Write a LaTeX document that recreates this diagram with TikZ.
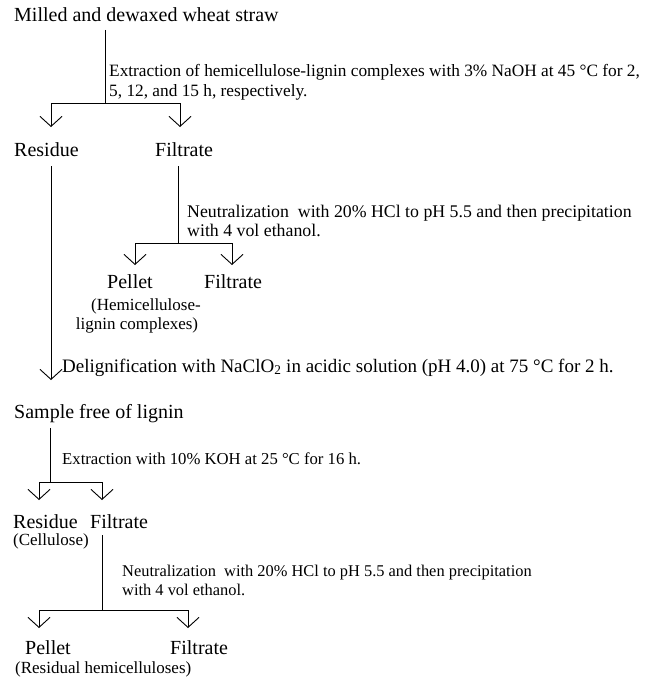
\documentclass[tikz,border=0pt]{standalone}
\usepackage{fontspec}
\setmainfont{Liberation Serif}
\usetikzlibrary{arrows.meta}
\begin{document}
\begin{tikzpicture}[x=1pt,y=-1pt,
  lbl/.style={anchor=base west,inner sep=0pt,font=\fontsize{20}{24}\selectfont},
  note/.style={anchor=base west,inner sep=0pt,font=\fontsize{17.3}{19}\selectfont},
  paren/.style={anchor=base west,inner sep=0pt,font=\fontsize{17}{19}\selectfont},
  ln/.style={line width=0.9pt},
  arr/.style={ln,-{Straight Barb[length=10pt,width=22pt,line width=0.9pt]}}]
\useasboundingbox (0,0) rectangle (647,677);
% ---- level 1
\node[lbl] (milled) at (14,22) {Milled and dewaxed wheat straw};
\coordinate (t1) at (105,30);
\coordinate (j1) at (105,103);
\coordinate (a1) at (51,127);
\coordinate (a2) at (180,127);
\node[note] (n1a) at (109,77) {Extraction of hemicellulose-lignin complexes with 3\% NaOH at 45 °C for 2,};
\node[note] (n1b) at (109,96) {5, 12, and 15 h, respectively.};
\draw[ln] (t1) -- (j1);
\draw[arr] (j1) -| (a1);
\draw[arr] (j1) -| (a2);
\node[lbl] (res1) at (14,156) {Residue};
\node[lbl] (fil1) at (155,156) {Filtrate};
% ---- level 2
\coordinate (t2) at (51,166);
\coordinate (a3) at (51,380);
\draw[arr] (t2) -- (a3);
\coordinate (t3) at (178,166);
\coordinate (j2) at (178,243);
\coordinate (a4) at (135,265);
\coordinate (a5) at (232,265);
\draw[ln] (t3) -- (j2);
\draw[arr] (j2) -| (a4);
\draw[arr] (j2) -| (a5);
\node[note,font=\fontsize{17.8}{19}\selectfont] (n2a) at (187,217) {Neutralization\ \ with 20\% HCl to pH 5.5 and then precipitation};
\node[note,font=\fontsize{17.8}{19}\selectfont] (n2b) at (187,236) {with 4 vol ethanol.};
\node[lbl] (pel1) at (107,288) {Pellet};
\node[lbl] (fil2) at (204,288) {Filtrate};
\node[paren,anchor=base] (hc1) at (146,310) {(Hemicellulose-};
\node[paren,anchor=base] (hc2) at (137,329) {lignin complexes)};
\node[note,font=\fontsize{19}{21}\selectfont] (n3) at (62,372) {Delignification with NaClO\textsubscript{2} in acidic solution (pH 4.0) at 75 °C for 2 h.};
% ---- level 3
\node[lbl] (sample) at (14,418) {Sample free of lignin};
\coordinate (t4) at (50,428);
\coordinate (j3) at (50,482);
\coordinate (a6) at (39,500);
\coordinate (a7) at (102,500);
\draw[ln] (t4) -- (j3);
\draw[arr] (j3) -| (a6);
\draw[arr] (j3) -| (a7);
\node[note,font=\fontsize{16.7}{19}\selectfont] (n4) at (62,464) {Extraction with 10\% KOH at 25 °C for 16 h.};
\node[lbl] (res2) at (13,528) {Residue};
\node[lbl] (fil3) at (90,528) {Filtrate};
\node[paren] (cell) at (13,545) {(Cellulose)};
% ---- level 4
\coordinate (t5) at (102,535);
\coordinate (j4) at (102,610);
\coordinate (a8) at (39,628);
\coordinate (a9) at (188,628);
\draw[ln] (t5) -- (j4);
\draw[arr] (j4) -| (a8);
\draw[arr] (j4) -| (a9);
\node[note,font=\fontsize{16.4}{19}\selectfont] (n5a) at (122,576) {Neutralization\ \ with 20\% HCl to pH 5.5 and then precipitation};
\node[note,font=\fontsize{16.4}{19}\selectfont] (n5b) at (122,595) {with 4 vol ethanol.};
\node[lbl] (pel2) at (25,654) {Pellet};
\node[lbl] (fil4) at (170,654) {Filtrate};
\node[paren] (resid) at (15,673) {(Residual hemicelluloses)};
\end{tikzpicture}
\end{document}
